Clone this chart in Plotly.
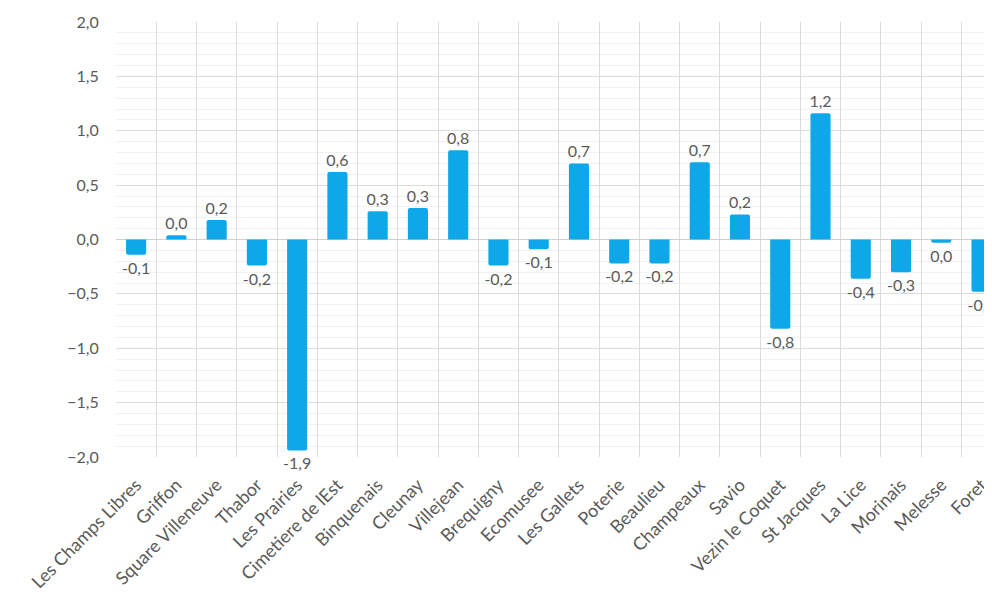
import plotly.graph_objects as go

categories = ["Les Champs Libres", "Griffon", "Square Villeneuve", "Thabor", "Les Prairies",
              "Cimetiere de lEst", "Binquenais", "Cleunay", "Villejean", "Brequigny",
              "Ecomusee", "Les Gallets", "Poterie", "Beaulieu", "Champeaux", "Savio",
              "Vezin le Coquet", "St Jacques", "La Lice", "Morinais", "Melesse", "Foret"]
values = [-0.14, 0.04, 0.18, -0.24, -1.94, 0.62, 0.26, 0.29, 0.82, -0.24,
          -0.09, 0.70, -0.22, -0.22, 0.71, 0.23, -0.82, 1.16, -0.36, -0.30, -0.03, -0.48]
y_ticks = [-2.0, -1.5, -1.0, -0.5, 0.0, 0.5, 1.0, 1.5, 2.0]


def fmt(v):
    s = f"{v:.1f}".replace(".", ",")
    return "0,0" if s == "-0,0" else s


labels = [fmt(v) for v in values]
font_family = "Lato, 'Open Sans', sans-serif"
txt_color = "#5a5a5a"

fig = go.Figure(go.Bar(
    x=categories, y=values, text=labels, textposition="outside",
    constraintext="none",
    textfont=dict(family=font_family, size=16, color=txt_color),
    marker=dict(color="#0ea8e8", cornerradius=2, line=dict(width=0)),
    width=0.5, cliponaxis=False,
))

fig.update_layout(
    width=984, height=597,
    margin=dict(l=108, r=0, t=14, b=148, autoexpand=False),
    plot_bgcolor="white", paper_bgcolor="white",
    separators=", ",
    showlegend=False,
    font=dict(family=font_family, size=16, color=txt_color),
)
fig.update_xaxes(
    range=[-0.5, 21.26], tickangle=-45, tickson="boundaries",
    showgrid=True, gridcolor="#dcdcdc", gridwidth=1,
    ticks="", ticklabelstandoff=13,
    showline=False, automargin=False,
    tickfont=dict(size=18, color=txt_color),
)
fig.update_yaxes(
    range=[-2.0, 2.0], tickvals=y_ticks, tickformat=".1f",
    showgrid=True, gridcolor="#dcdcdc", gridwidth=1,
    minor=dict(dtick=0.1, showgrid=True, gridcolor="#f1f1f1", gridwidth=1),
    zeroline=True, zerolinecolor="#d0d0d0", zerolinewidth=1,
    ticks="outside", ticklen=13, tickcolor="rgba(0,0,0,0)", automargin=False,
    tickfont=dict(size=16, color=txt_color),
)
fig.write_html("out.html")
